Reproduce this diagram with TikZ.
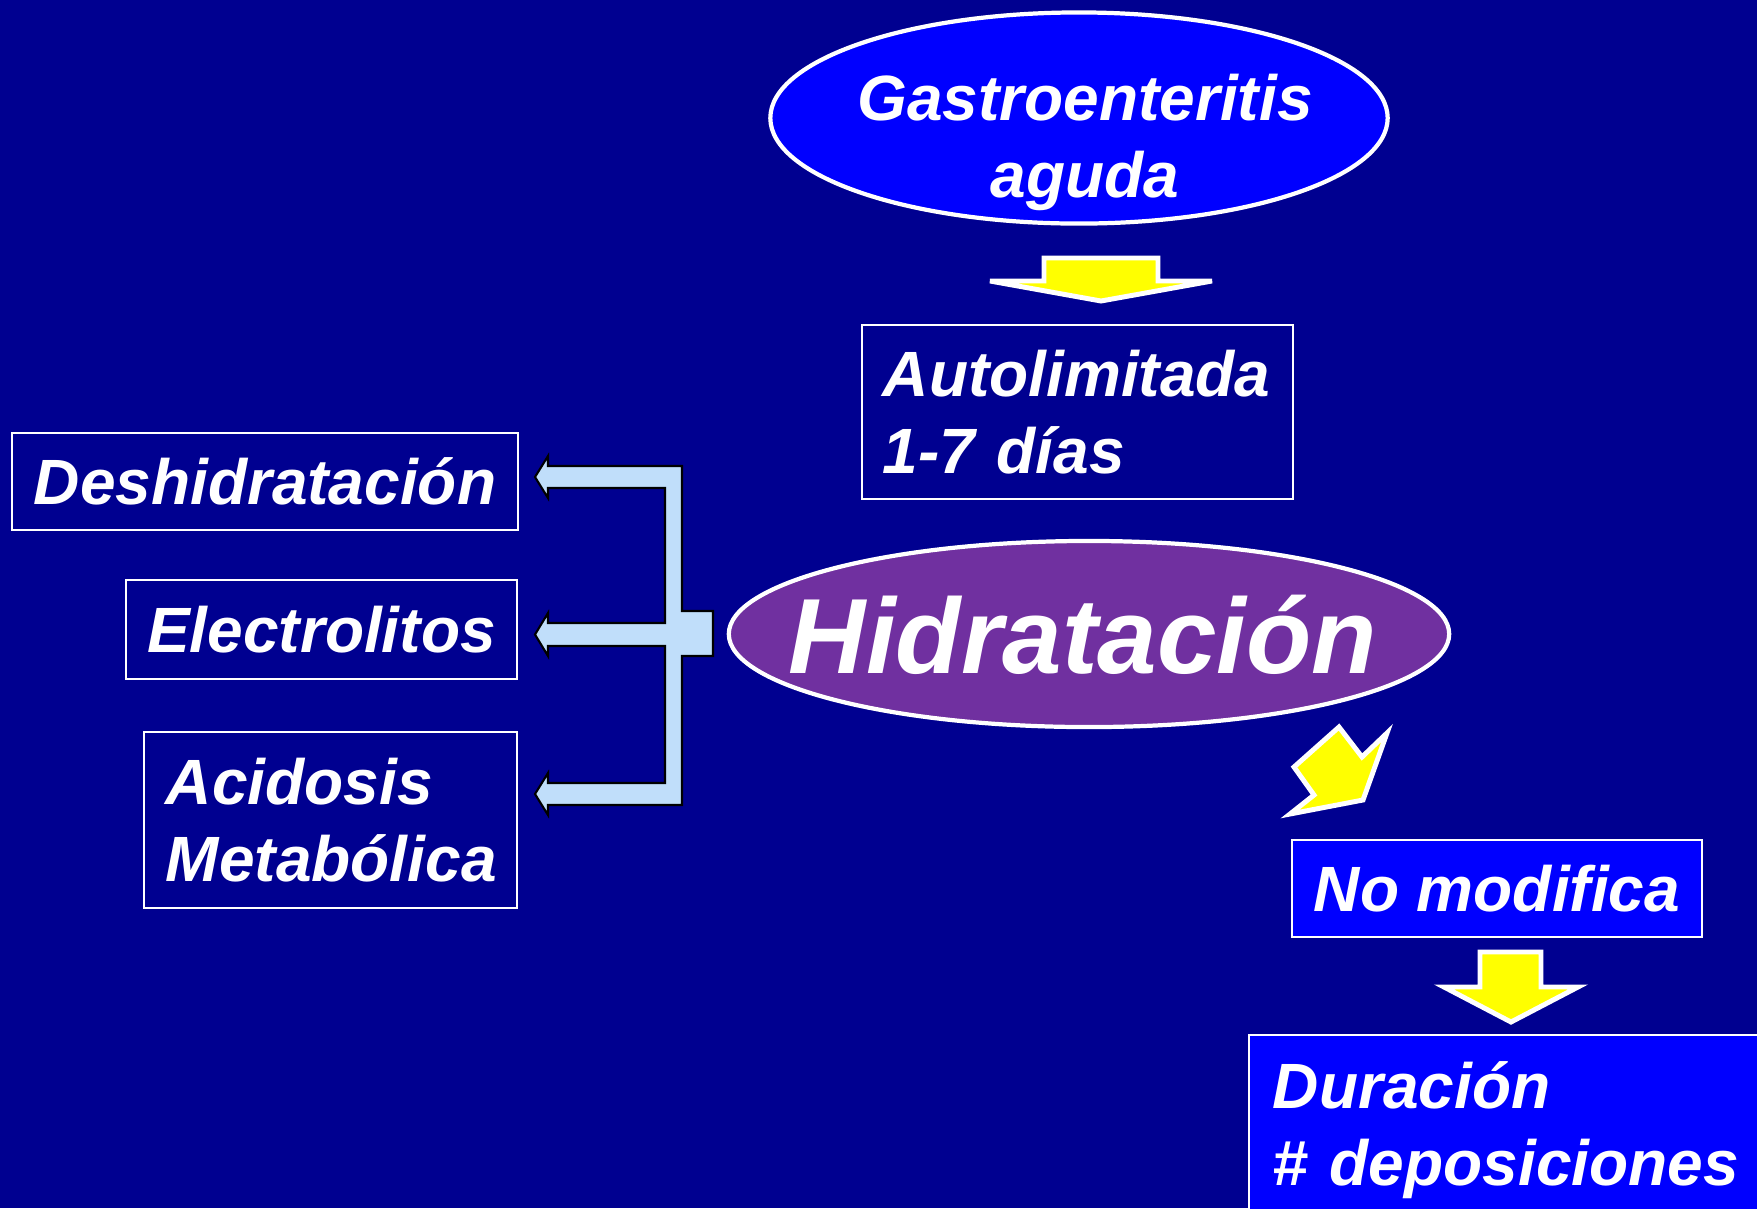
\documentclass[tikz,border=0pt]{standalone}
\usepackage{fontspec}
\setmainfont{Liberation Sans}
\usetikzlibrary{shapes.geometric}
\definecolor{fondo}{RGB}{0,0,144}
\definecolor{azul}{RGB}{0,0,255}
\definecolor{morado}{RGB}{112,48,160}
\definecolor{celeste}{RGB}{192,222,250}
\definecolor{amarillo}{RGB}{255,255,0}

\begin{document}
\begin{tikzpicture}[x=0.01cm,y=-0.01cm,
                    letra/.style={text=white,font=\fontsize{18.2}{21.9}\selectfont\bfseries\itshape},
                    caja/.style={letra,rectangle,draw=white,line width=0.6pt,inner sep=0pt},
                    ovalo/.style={ellipse,draw=white,line width=1.2pt,inner sep=0pt},
                    flecha/.style={fill=amarillo,draw=white,line width=1.4pt,line join=miter}]
                    \useasboundingbox (0,0) rectangle (1757,1208);
                    \fill [fondo] (0,0) rectangle (1757,1208);

                    \node [ovalo,fill=azul,minimum width=6.17cm,minimum height=2.11cm] (gastro) at (1079,118) {};
                    \node [letra,align=center] (gastrotxt) at (1085,142) {Gastroenteritis\\aguda};
                    \node [caja,minimum width=4.31cm,minimum height=1.74cm,inner xsep=0.21cm,text width=3.89cm,align=left] (auto) at (1077.5,412) {Autolimitada\\1-7 días};
                    \node [ovalo,fill=morado,minimum width=7.2cm,minimum height=1.86cm] (hidra) at (1089,634) {};
                    \node [text=white,font=\fontsize{30.4}{36}\selectfont\bfseries\itshape] (hidratxt) at (1083,635) {Hidratación};

                    \node [caja,minimum width=5.06cm,minimum height=0.97cm] (deshid) at (265,481.5) {Deshidratación};
                    \node [caja,minimum width=3.91cm,minimum height=0.99cm] (electro) at (321.5,629.5) {Electrolitos};
                    \node [caja,minimum width=3.73cm,minimum height=1.76cm,inner xsep=0.22cm,text width=3.29cm,align=left] (acidosis) at (330.5,820) {Acidosis\\Metabólica};

                    \node [caja,fill=azul,minimum width=4.1cm,minimum height=0.97cm] (nomod) at (1497,888.5) {No modifica};
                    \node [caja,fill=azul,minimum width=5.28cm,minimum height=1.91cm,inner xsep=0.24cm,text width=4.8cm,align=left] (duracion) at (1513,1130.5) {Duración\\\# deposiciones};

                    \draw [flecha] (1044,258) -- (1158,258) -- (1158,281) -- (1212,281) -- (1101,301) -- (990,281) -- (1044,281) -- cycle;
                    \draw [flecha] (1339,727) -- (1362,757) -- (1387,733) -- (1363,800) -- (1290,814) -- (1314,795) -- (1294,767) -- cycle;
                    \draw [flecha] (1480,952) -- (1541,952) -- (1541,987) -- (1578,987) -- (1511,1022) -- (1444,987) -- (1480,987) -- cycle;

                    \draw [fill=celeste,draw=black,line width=0.6pt] (535,477) -- (548,456) -- (548,466) -- (682,466) -- (682,611) -- (713,611)
                    -- (713,656) -- (682,656) -- (682,805) -- (548,805) -- (548,815) -- (535,794) -- (548,773) -- (548,783)
                    -- (665,783) -- (665,646) -- (548,646) -- (548,656) -- (535,634.5) -- (548,613) -- (548,623) -- (665,623)
                    -- (665,488) -- (548,488) -- (548,498) -- cycle;
                \end{tikzpicture}
\end{document}
